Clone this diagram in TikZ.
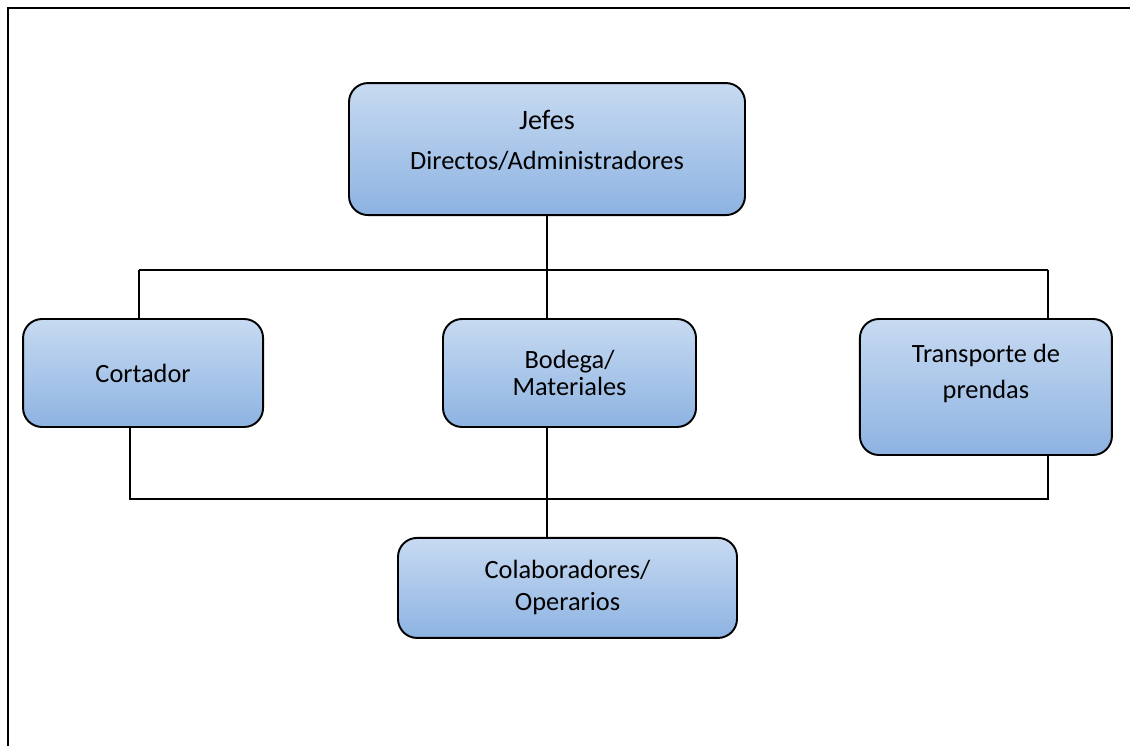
\documentclass[tikz,border=0pt]{standalone}
\usepackage{fontspec}
\setmainfont{Carlito}
\usepackage{xcolor}
\definecolor{boxtop}{RGB}{199,218,241}
\definecolor{boxbot}{RGB}{141,179,226}
\usepackage{tikz}
\usetikzlibrary{positioning}

\begin{document}
\begin{tikzpicture}[
      box/.style={draw, line width=1.1pt, rounded corners=0.38cm,
                  top color=boxtop, bottom color=boxbot,
                  align=center, inner sep=0pt},
      lin/.style={line width=1.1pt}
  ]
    \useasboundingbox (0,0) rectangle (22.6,14.92);
    \draw[line width=1.6pt] (0.16,0) -- (0.16,14.76) -- (22.6,14.76);
    \node[box, minimum width=5.06cm, minimum height=2.16cm,
          font=\fontsize{15}{15.4}\selectfont] (bod) at (11.39,7.46) {Bodega/\\Materiales};
    \node[box, left=3.56cm of bod, minimum width=4.8cm, minimum height=2.16cm,
          font=\fontsize{15}{18}\selectfont] (cort) {Cortador};
    \node[box, right=3.24cm of bod.north east, anchor=north west,
          minimum width=5.04cm, minimum height=2.72cm, text depth=18pt,
          font=\fontsize{15}{20.5}\selectfont] (trans) {Transporte de\\prendas};
    \node[box, above=2.04cm of bod, xshift=-0.45cm, minimum width=7.92cm,
          minimum height=2.64cm, text depth=10.6pt,
          font=\fontsize{15}{22.8}\selectfont] (jefes) {{\fontsize{16}{19}\selectfont Jefes}\\Directos/Administradores};
    \node[box, below=2.18cm of bod, xshift=-0.04cm, minimum width=6.78cm,
          minimum height=2cm, font=\fontsize{15}{18.2}\selectfont] (colab) {Colaboradores/\\Operarios};
    \coordinate (busL) at (2.78,9.52);
    \coordinate (busR) at (20.96,9.52);
    \coordinate (lowL) at (2.6,4.94);
    \coordinate (lowR) at (20.96,4.94);
    \draw[lin] (busL) -- (busR);
    \draw[lin] (jefes.south) -- (jefes.south |- bod.north);
    \draw[lin] (busL) -- (busL |- cort.north);
    \draw[lin] (busR) -- (busR |- trans.north);
    \draw[lin] (lowL |- cort.south) -- (lowL) -- (lowR) -- (lowR |- trans.south);
    \draw[lin] (jefes.south |- bod.south) -- (jefes.south |- colab.north);
  \end{tikzpicture}
\end{document}
